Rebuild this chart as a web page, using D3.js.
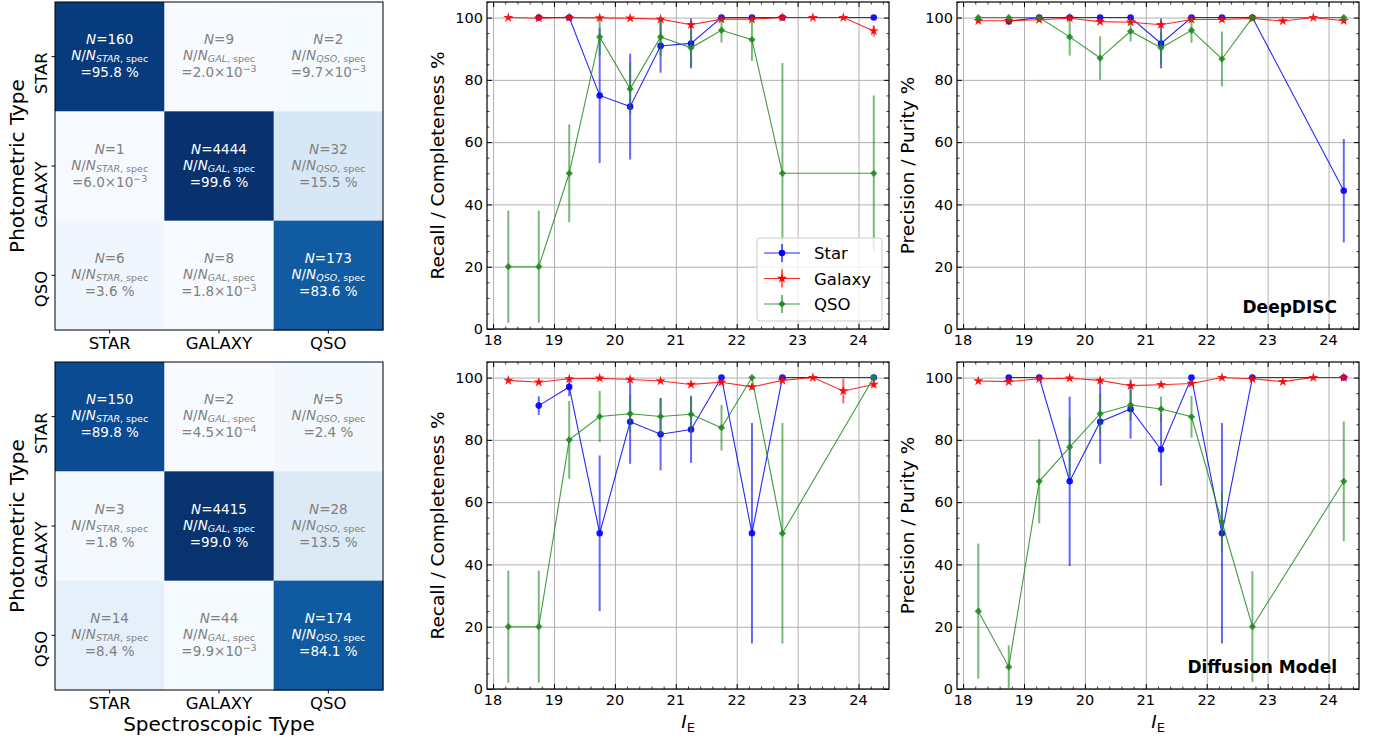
<!DOCTYPE html>
<html>
<head>
<meta charset="utf-8">
<script src="https://cdn.jsdelivr.net/npm/d3@7"></script>
<style>
  body{margin:0;background:#fff;}
  svg{display:block;font-family:'DejaVu Sans',sans-serif;}
</style>
</head>
<body>
<svg id="svgx"></svg>
<script>
// ---- confusion matrices (rows = photometric, cols = spectroscopic)
var classes = ["STAR", "GALAXY", "QSO"];
var subLabels = ["STAR", "GAL", "QSO"];
var countsDeep = [[160, 9, 2], [1, 4444, 32], [6, 8, 173]];
var fracDeep = [[0.958, 0.0020, 0.0097], [0.0060, 0.996, 0.155], [0.036, 0.0018, 0.836]];
var countsDiff = [[150, 2, 5], [3, 4415, 28], [14, 44, 174]];
var fracDiff = [[0.898, 0.00045, 0.024], [0.018, 0.990, 0.135], [0.084, 0.0099, 0.841]];

// ---- magnitude bins and tick labels
var bins = [18.25, 18.75, 19.25, 19.75, 20.25, 20.75, 21.25, 21.75, 22.25, 22.75, 23.25, 23.75, 24.25];
var xTicks = [18, 19, 20, 21, 22, 23, 24];
var yTicks = [0, 20, 40, 60, 80, 100];

// ---- DeepDISC recall
var deepRecStar   = [null, 100, 100, 75.0, 71.4, 90.9, 91.7, 100, 100, 100, null, null, 100];
var deepRecStarE  = [null, 0, 0, 21.7, 17.0, 8.6, 8.0, 0, 0, 0, null, null, 0];
var deepRecGal    = [100, 99.8, 100, 99.9, 99.8, 99.5, 97.7, 99.5, 99.5, 100, 100, 100, 95.7];
var deepRecGalE   = [0, 0.3, 0, 0.2, 0.3, 0.5, 1.2, 0.5, 0.6, 0, 0, 0, 1.8];
var deepRecQso    = [20, 20, 50, 93.8, 77.1, 93.8, 90.3, 95.9, 92.9, 50, null, null, 50];
var deepRecQsoE   = [18, 18, 15.7, 6.0, 8.3, 6.0, 6.0, 3.9, 6.8, 35.4, null, null, 25];
// ---- DeepDISC precision
var deepPreStar   = [null, 98.8, 100, 100, 100, 100, 91.7, 100, 100, 100, null, null, 44.4];
var deepPreStarE  = [null, 1.2, 0, 0, 0, 0, 8.0, 0, 0, 0, null, null, 16.6];
var deepPreGal    = [99.0, 99.0, 99.3, 99.8, 98.7, 98.5, 97.7, 99.4, 99.4, 99.7, 98.9, 100, 99.0];
var deepPreGalE   = [0.6, 0.5, 0.4, 0.2, 0.4, 0.4, 0.5, 0.3, 0.4, 0.3, 0.5, 0, 0.8];
var deepPreQso    = [100, 100, 100, 93.8, 87.0, 95.6, 90.3, 95.9, 86.7, 100, null, null, 100];
var deepPreQsoE   = [0, 0, 0, 6.0, 7.0, 3.3, 5.0, 4.0, 8.8, 0, null, null, 0];
// ---- Diffusion model recall
var diffRecStar   = [null, 91.0, 97.0, 50, 85.8, 81.8, 83.3, 100, 50, 100, null, null, 100];
var diffRecStarE  = [null, 3.0, 3.0, 25, 13.5, 11.6, 10.7, 0, 35.4, 0, null, null, 0];
var diffRecGal    = [99.1, 98.5, 99.6, 99.8, 99.4, 98.9, 97.8, 98.5, 97.0, 99.1, 100, 95.7, 97.8];
var diffRecGalE   = [0.4, 0.5, 0.3, 0.2, 0.3, 0.4, 0.5, 0.5, 0.8, 0.6, 0, 4.0, 1.0];
var diffRecQso    = [20, 20, 80, 87.5, 88.4, 87.5, 88.2, 83.9, 100, 50, null, null, 100];
var diffRecQsoE   = [18, 18, 12.5, 8.2, 6.0, 6.0, 6.0, 7.3, 0, 35.4, null, null, 0];
// ---- Diffusion model precision
var diffPreStar   = [null, 100, 100, 66.7, 85.8, 89.9, 76.9, 100, 50, 100, null, null, 100];
var diffPreStarE  = [null, 0, 0, 27.2, 13.5, 9.5, 11.6, 0, 35.4, 0, null, null, 0];
var diffPreGal    = [98.9, 98.7, 99.6, 99.8, 99.1, 97.4, 97.7, 98.1, 100, 99.6, 98.7, 100, 100];
var diffPreGalE   = [0.5, 0.5, 0.3, 0.2, 0.4, 0.6, 0.5, 0.5, 0, 0.3, 0.6, 0, 0];
var diffPreQso    = [25, 7.1, 66.7, 77.7, 88.4, 91.2, 89.9, 87.4, 53.7, 20, null, null, 66.7];
var diffPreQsoE   = [21.7, 6.9, 13.5, 9.5, 6.5, 5.0, 4.0, 6.7, 9.6, 17.8, null, null, 19.2];

var seriesNames = ["Star", "Galaxy", "QSO"];
var seriesColors = ["#0000ff", "#ff0000", "#1f8b1f"];

var widthA = 1383, heightA = 738;
var svg = d3.select('#svgx').attr('width', widthA).attr('height', heightA);

var gray = '#808080';

// ================= confusion matrix =================
function drawMatrix(top, counts, frac, showXLabel){
  var x0 = 55, size = 328, cw = size / 3;
  var g = svg.append('g');
  for (var i = 0; i < 3; i++){
    for (var j = 0; j < 3; j++){
      var f = frac[i][j];
      g.append('rect')
        .attr('x', x0 + j*cw).attr('y', top + i*cw)
        .attr('width', cw + 0.5).attr('height', cw + 0.5)
        .attr('fill', d3.interpolateBlues(f));
      cellText(g, x0 + j*cw + cw/2, top + i*cw + cw/2, counts[i][j], f, subLabels[j], f > 0.5 ? 'white' : gray);
    }
  }
  g.append('rect').attr('x', x0).attr('y', top).attr('width', size).attr('height', size)
    .attr('fill', 'none').attr('stroke', 'black').attr('stroke-width', 1);

  // ticks + labels (y labels hang below their tick, as in the original)
  classes.forEach(function(c, k){
    var cy = top + k*cw + cw/2, cx = x0 + k*cw + cw/2;
    g.append('line').attr('x1', x0 - 3.5).attr('x2', x0).attr('y1', cy).attr('y2', cy).attr('stroke', 'black');
    g.append('line').attr('x1', cx).attr('x2', cx).attr('y1', top + size).attr('y2', top + size + 3.5).attr('stroke', 'black');
    g.append('text').attr('transform', 'translate(46.5,' + (cy - 4.5) + ') rotate(-90)')
      .attr('text-anchor', 'end').style('font-size', '16.5px').text(c);
    g.append('text').attr('x', cx).attr('y', top + size + 19)
      .attr('text-anchor', 'middle').style('font-size', '16.5px').text(c);
  });
  g.append('text').attr('transform', 'translate(24,' + (top + size/2) + ') rotate(-90)')
    .attr('text-anchor', 'middle').style('font-size', '20px').text('Photometric Type');
  if (showXLabel){
    g.append('text').attr('x', x0 + size/2).attr('y', 731)
      .attr('text-anchor', 'middle').style('font-size', '20px').text('Spectroscopic Type');
  }
}

function cellText(g, cx, cy, n, f, sub, col){
  var fs = '13.5px', fss = '9.5px';
  var t1 = g.append('text').attr('x', cx).attr('y', cy - 12.5).attr('text-anchor', 'middle')
    .attr('fill', col).style('font-size', fs);
  t1.append('tspan').style('font-style', 'italic').text('N');
  t1.append('tspan').text('=' + n);

  var t2 = g.append('text').attr('x', cx).attr('y', cy + 3.5).attr('text-anchor', 'middle')
    .attr('fill', col).style('font-size', fs);
  t2.append('tspan').style('font-style', 'italic').text('N');
  t2.append('tspan').text('/');
  t2.append('tspan').style('font-style', 'italic').text('N');
  t2.append('tspan').attr('dy', 2).style('font-size', fss).style('font-style', 'italic').text(sub);
  t2.append('tspan').style('font-size', fss).text(', spec');

  var t3 = g.append('text').attr('x', cx).attr('y', cy + 20.5).attr('text-anchor', 'middle')
    .attr('fill', col).style('font-size', fs);
  if (f >= 0.01){
    t3.text('=' + (f*100).toFixed(1) + ' %');
  } else {
    var e = Math.floor(Math.log10(f));
    var m = f / Math.pow(10, e);
    t3.append('tspan').text('=' + m.toFixed(1) + '\u00d710');
    t3.append('tspan').attr('dy', -5).style('font-size', fss).text('\u2212' + (-e));
  }
}

drawMatrix(2, countsDeep, fracDeep, false);
drawMatrix(362, countsDiff, fracDiff, true);

// ================= recall / precision panels =================
var pw = 402, ph = 327;
var panelId = 0;

function drawPanel(x0, y0, vals, errs, ylab, opts){
  panelId++;
  var xs = d3.scaleLinear().domain([17.9, 24.5]).range([x0, x0 + pw]);
  var ys = d3.scaleLinear().domain([0, 105]).range([y0 + ph, y0]);
  var g = svg.append('g');

  g.append('clipPath').attr('id', 'clip' + panelId).append('rect')
    .attr('x', x0).attr('y', y0).attr('width', pw).attr('height', ph);

  // grid
  g.append('g').attr('transform', 'translate(0,' + (y0 + ph) + ')')
    .call(d3.axisBottom(xs).tickValues(xTicks).tickSize(-ph).tickFormat(''))
    .call(a => a.select('.domain').remove())
    .selectAll('line').attr('stroke', '#b0b0b0').attr('stroke-width', 1);
  g.append('g').attr('transform', 'translate(' + x0 + ',0)')
    .call(d3.axisLeft(ys).tickValues(yTicks).tickSize(-pw).tickFormat(''))
    .call(a => a.select('.domain').remove())
    .selectAll('line').attr('stroke', '#b0b0b0').attr('stroke-width', 1);

  // series
  var pg = g.append('g').attr('clip-path', 'url(#clip' + panelId + ')');
  var symbols = [d3.symbol().type(d3.symbolCircle).size(34),
                 d3.symbol().type(d3.symbolStar).size(32),
                 d3.symbol().type(d3.symbolSquare).size(26)];
  vals.forEach(function(v, k){
    var col = seriesColors[k];
    var pts = bins.map((b, i) => ({x: b, y: v[i], e: errs[k][i]})).filter(d => d.y != null);
    pg.selectAll(null).data(pts.filter(d => d.e > 0)).enter().append('line')
      .attr('x1', d => xs(d.x)).attr('x2', d => xs(d.x))
      .attr('y1', d => ys(Math.min(105, d.y + d.e))).attr('y2', d => ys(Math.max(0, d.y - d.e)))
      .attr('stroke', col).attr('stroke-width', 2).attr('stroke-opacity', 0.6);
    pg.append('path').datum(pts)
      .attr('d', d3.line().x(d => xs(d.x)).y(d => ys(d.y)))
      .attr('fill', 'none').attr('stroke', col).attr('stroke-width', 1.1).attr('stroke-opacity', 0.85);
    pg.selectAll(null).data(pts).enter().append('path')
      .attr('d', symbols[k])
      .attr('transform', d => 'translate(' + xs(d.x) + ',' + ys(d.y) + ')' + (k === 2 ? ' rotate(45)' : ''))
      .attr('fill', col).attr('fill-opacity', 0.9);
  });

  // frame
  g.append('rect').attr('x', x0).attr('y', y0).attr('width', pw).attr('height', ph)
    .attr('fill', 'none').attr('stroke', 'black').attr('stroke-width', 1.2);

  // inward ticks, all sides
  var xMinor = d3.range(182, 246, 2).map(v => v/10).filter(v => Math.abs(v - Math.round(v)) > 0.01);
  var yMinor = d3.range(5, 106, 5).filter(v => v % 20 !== 0);
  function tickAxis(axisFn, scale, vals, len, tr){
    var a = g.append('g').attr('transform', tr)
      .call(axisFn(scale).tickValues(vals).tickSize(-len).tickFormat(''));
    a.select('.domain').remove();
    a.selectAll('line').attr('stroke', 'black').attr('stroke-width', len > 3 ? 1 : 0.8);
    return a;
  }
  [[5, xTicks, yTicks], [2.5, xMinor, yMinor]].forEach(function(t){
    tickAxis(d3.axisBottom, xs, t[1], t[0], 'translate(0,' + (y0 + ph) + ')');
    tickAxis(d3.axisTop, xs, t[1], t[0], 'translate(0,' + y0 + ')');
    tickAxis(d3.axisLeft, ys, t[2], t[0], 'translate(' + x0 + ',0)');
    tickAxis(d3.axisRight, ys, t[2], t[0], 'translate(' + (x0 + pw) + ',0)');
  });

  // tick labels
  g.selectAll(null).data(xTicks).enter().append('text')
    .attr('x', d => xs(d)).attr('y', y0 + ph + 16)
    .attr('text-anchor', 'middle').style('font-size', '14.5px').text(d => d);
  g.selectAll(null).data(yTicks).enter().append('text')
    .attr('x', x0 - 4).attr('y', d => ys(d) + 5.3)
    .attr('text-anchor', 'end').style('font-size', '14.5px').text(d => d);

  g.append('text').attr('transform', 'translate(' + (x0 - 43) + ',' + (y0 + ph/2) + ') rotate(-90)')
    .attr('text-anchor', 'middle').style('font-size', '18.5px').text(ylab);

  if (opts.xlabel){
    var t = g.append('text').attr('x', x0 + pw/2).attr('y', 728)
      .attr('text-anchor', 'middle').style('font-size', '18.5px');
    t.append('tspan').style('font-style', 'italic').text('I');
    t.append('tspan').attr('dy', 4).style('font-size', '13px').text('E');
  }
  if (opts.label){
    g.append('text').attr('x', x0 + pw - 22).attr('y', y0 + ph - 16.5)
      .attr('text-anchor', 'end').style('font-size', '17px').style('font-weight', 700).text(opts.label);
  }
  if (opts.legend){
    var lg = g.append('g');
    lg.append('rect').attr('x', 757).attr('y', 238).attr('width', 125).attr('height', 83)
      .attr('rx', 3).attr('fill', 'white').attr('fill-opacity', 0.8)
      .attr('stroke', '#cccccc').attr('stroke-width', 1);
    seriesNames.forEach(function(nm, k){
      var ly = 253 + k*25.5, col = seriesColors[k];
      lg.append('line').attr('x1', 764).attr('x2', 800).attr('y1', ly).attr('y2', ly)
        .attr('stroke', col).attr('stroke-width', 1.1).attr('stroke-opacity', 0.85);
      lg.append('line').attr('x1', 782).attr('x2', 782).attr('y1', ly - 9).attr('y2', ly + 9)
        .attr('stroke', col).attr('stroke-width', 2).attr('stroke-opacity', 0.6);
      lg.append('path').attr('d', symbols[k])
        .attr('transform', 'translate(782,' + ly + ')' + (k === 2 ? ' rotate(45)' : ''))
        .attr('fill', col);
      lg.append('text').attr('x', 814).attr('y', ly + 6).style('font-size', '16.5px').text(nm);
    });
  }
}

drawPanel(487, 2, [deepRecStar, deepRecGal, deepRecQso], [deepRecStarE, deepRecGalE, deepRecQsoE],
  'Recall / Completeness %', {legend: true});
drawPanel(957, 2, [deepPreStar, deepPreGal, deepPreQso], [deepPreStarE, deepPreGalE, deepPreQsoE],
  'Precision / Purity %', {label: 'DeepDISC'});
drawPanel(487, 362, [diffRecStar, diffRecGal, diffRecQso], [diffRecStarE, diffRecGalE, diffRecQsoE],
  'Recall / Completeness %', {xlabel: true});
drawPanel(957, 362, [diffPreStar, diffPreGal, diffPreQso], [diffPreStarE, diffPreGalE, diffPreQsoE],
  'Precision / Purity %', {xlabel: true, label: 'Diffusion Model'});
</script>
</body>
</html>
